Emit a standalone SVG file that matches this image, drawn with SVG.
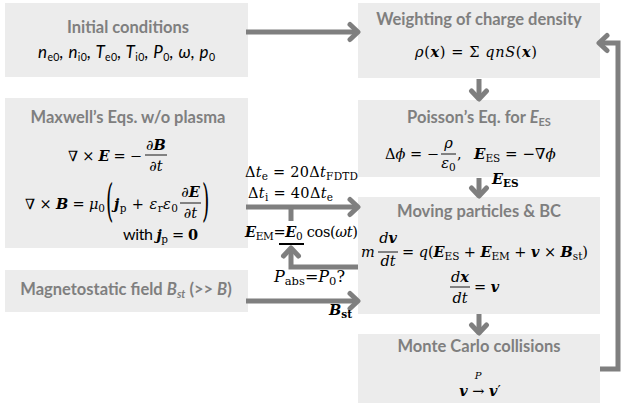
<svg xmlns="http://www.w3.org/2000/svg" width="622" height="405" viewBox="0 0 622 405">
<defs>
<style>
.box{fill:#ececec}
.t{font-family:Lato,"Open Sans","Liberation Sans",sans-serif;font-weight:bold;font-size:16.5px;fill:#7f7f7f;text-anchor:middle}
.m{font-family:"DejaVu Serif","Liberation Serif",serif;font-size:14.5px;fill:#000}
.s{font-family:Lato,"Liberation Sans",sans-serif;font-size:17px;fill:#000}
.i{font-style:italic}
.bv{font-style:italic;font-weight:bold}
.b{font-weight:bold}
.sub{font-size:10.5px;font-style:normal}
.sb{font-size:10.5px;font-style:normal;font-weight:bold}
.bar{stroke:#000;stroke-width:0.9}
.c{fill:none;stroke:#7f7f7f;stroke-width:5}
</style>
<marker id="head" markerUnits="userSpaceOnUse" markerWidth="20" markerHeight="22" viewBox="-14 -11 18 22" refX="0" refY="0" orient="auto">
<path d="M-8,-7.5 L0,0 L-8,7.5" fill="none" stroke="#7f7f7f" stroke-width="5" stroke-linecap="round" stroke-linejoin="round"/>
</marker>
</defs>
<rect width="622" height="405" fill="#fff"/>

<g id="initial">
<rect class="box" x="5" y="3" width="243" height="74"/>
<text class="t" x="128" y="33">Initial conditions</text>
<text class="s i" x="38" y="58" textLength="177" lengthAdjust="spacing">n<tspan class="sub" dy="3">e0</tspan><tspan dy="-3">, n</tspan><tspan class="sub" dy="3">i0</tspan><tspan dy="-3">, T</tspan><tspan class="sub" dy="3">e0</tspan><tspan dy="-3">, T</tspan><tspan class="sub" dy="3">i0</tspan><tspan dy="-3">, P</tspan><tspan class="sub" dy="3">0</tspan><tspan dy="-3">, ω, p</tspan><tspan class="sub" dy="3">0</tspan></text>
</g>

<g id="maxwell">
<rect class="box" x="5" y="98" width="243" height="150"/>
<text class="t" x="128" y="123">Maxwell’s Eqs. w/o plasma</text>
<text class="m" x="68" y="161" textLength="74" lengthAdjust="spacing"><tspan class="i">∇</tspan> × <tspan class="bv">E</tspan> = −</text>
<text class="m" x="156" y="150" text-anchor="middle">∂<tspan class="bv">B</tspan></text>
<line class="bar" x1="145" y1="155" x2="167" y2="155"/>
<text class="m" x="156" y="171" text-anchor="middle">∂<tspan class="i">t</tspan></text>
<text class="m" x="25" y="209" textLength="80" lengthAdjust="spacing"><tspan class="i">∇</tspan> × <tspan class="bv">B</tspan> = <tspan class="i">μ</tspan><tspan class="sub" dy="3">0</tspan></text>
<text class="m" x="106" y="216" style="font-size:45px" transform="translate(106 216) scale(0.42 1) translate(-106 -216)">(</text>
<text class="m" x="114" y="209" textLength="64" lengthAdjust="spacing"><tspan class="bv">j</tspan><tspan class="sub" dy="3">p</tspan><tspan dy="-3"> + </tspan><tspan class="i">ε</tspan><tspan class="sub" dy="3">r</tspan><tspan class="i" dy="-3">ε</tspan><tspan class="sub" dy="3">0</tspan></text>
<text class="m" x="190.5" y="197" text-anchor="middle">∂<tspan class="bv">E</tspan></text>
<line class="bar" x1="180" y1="203" x2="201" y2="203"/>
<text class="m" x="190.5" y="218" text-anchor="middle">∂<tspan class="i">t</tspan></text>
<text class="m" x="202" y="216" style="font-size:45px" transform="translate(202 216) scale(0.42 1) translate(-202 -216)">)</text>
<text class="m" x="123" y="240" textLength="75" lengthAdjust="spacing"><tspan font-family="Lato,'Liberation Sans',sans-serif" font-size="16">with </tspan><tspan class="bv">j</tspan><tspan class="sub" dy="3">p</tspan><tspan dy="-3"> = </tspan><tspan class="b">0</tspan></text>
</g>

<g id="magnetostatic">
<rect class="box" x="5" y="270" width="243" height="42"/>
<text class="t" x="126" y="295">Magnetostatic field <tspan font-style="italic">B</tspan><tspan style="font-size:11px" dy="3" font-style="italic">st</tspan><tspan dy="-3"> (&gt;&gt; </tspan><tspan font-style="italic">B</tspan>)</text>
</g>

<g id="weighting">
<rect class="box" x="358" y="3" width="242" height="75"/>
<text class="t" x="479" y="25">Weighting of charge density</text>
<text class="m" x="415" y="57" textLength="122" lengthAdjust="spacing"><tspan class="i">ρ</tspan>(<tspan class="bv">x</tspan>) = Σ <tspan class="i">qnS</tspan>(<tspan class="bv">x</tspan>)</text>
</g>

<g id="poisson">
<rect class="box" x="358" y="100" width="242" height="77"/>
<text class="t" x="479" y="123">Poisson’s Eq. for <tspan font-style="italic">E</tspan><tspan style="font-size:11px" dy="3">ES</tspan></text>
<text class="m" x="385" y="159" textLength="54" lengthAdjust="spacing">Δ<tspan class="i">ϕ</tspan> = −</text>
<text class="m i" x="448.5" y="148" text-anchor="middle">ρ</text>
<line class="bar" x1="441" y1="154" x2="456" y2="154"/>
<text class="m" x="448.5" y="168" text-anchor="middle"><tspan class="i">ε</tspan><tspan class="sub" dy="3">0</tspan></text>
<text class="m" x="457" y="159">,</text>
<text class="m" x="474" y="159" style="font-size:15px"><tspan class="bv">E</tspan><tspan class="sub" dy="3">ES</tspan><tspan dy="-3"> = −</tspan><tspan class="i">∇ϕ</tspan></text>
</g>

<g id="moving">
<rect class="box" x="358" y="197" width="242" height="117"/>
<text class="t" x="479" y="217">Moving particles &amp; BC</text>
<text class="m i" x="361" y="257">m</text>
<text class="m" x="388" y="243" text-anchor="middle"><tspan class="i">d</tspan><tspan class="bv">v</tspan></text>
<line class="bar" x1="378" y1="252" x2="398" y2="252"/>
<text class="m i" x="388" y="266" text-anchor="middle">dt</text>
<text class="m" x="402" y="257" textLength="186" lengthAdjust="spacing">= <tspan class="i">q</tspan>(<tspan class="bv">E</tspan><tspan class="sub" dy="3">ES</tspan><tspan dy="-3"> + </tspan><tspan class="bv">E</tspan><tspan class="sub" dy="3">EM</tspan><tspan dy="-3"> + </tspan><tspan class="bv">v</tspan> × <tspan class="bv">B</tspan><tspan class="sub" dy="3">st</tspan><tspan dy="-3">)</tspan></text>
<text class="m" x="460" y="282" text-anchor="middle"><tspan class="i">d</tspan><tspan class="bv">x</tspan></text>
<line class="bar" x1="450" y1="287" x2="470" y2="287"/>
<text class="m i" x="460" y="303" text-anchor="middle">dt</text>
<text class="m" x="474" y="292">= <tspan class="bv">v</tspan></text>
</g>

<g id="montecarlo">
<rect class="box" x="358" y="334" width="242" height="69"/>
<text class="t" x="479" y="352">Monte Carlo collisions</text>
<text class="m" x="480" y="396" text-anchor="middle"><tspan class="bv">v</tspan> → <tspan class="bv">v</tspan>′</text>
<text class="m i" x="478" y="379" text-anchor="middle" style="font-size:10px">P</text>
</g>

<g id="connectors">
<path class="c" d="M246,32 H358" marker-end="url(#head)"/>
<path class="c" d="M479,79 V99" marker-end="url(#head)"/>
<path class="c" d="M479,178 V196" marker-end="url(#head)"/>
<path class="c" d="M479,314 V333" marker-end="url(#head)"/>
<path class="c" d="M600,369 H618 V43 H599" marker-end="url(#head)"/>
<path class="c" d="M246,207 H358" marker-end="url(#head)"/>
<path class="c" d="M291,207 V221"/>
<path class="c" d="M358,267 H291 V248" marker-end="url(#head)"/>
<path class="c" d="M246,301 H358" marker-end="url(#head)"/>
</g>

<g id="labels">
<text class="m" x="245" y="177" textLength="113" lengthAdjust="spacing">Δ<tspan class="i">t</tspan><tspan class="sub" dy="3">e</tspan><tspan dy="-3"> = 20Δ</tspan><tspan class="i">t</tspan><tspan class="sub" dy="3">FDTD</tspan></text>
<text class="m" x="248" y="198" textLength="85" lengthAdjust="spacing">Δ<tspan class="i">t</tspan><tspan class="sub" dy="3">i</tspan><tspan dy="-3"> = 40Δ</tspan><tspan class="i">t</tspan><tspan class="sub" dy="3">e</tspan></text>
<text class="m" x="245" y="237" textLength="113" lengthAdjust="spacing"><tspan class="bv">E</tspan><tspan class="sub" dy="3">EM</tspan><tspan dy="-3">=</tspan><tspan class="bv">E</tspan><tspan class="sub" dy="3">0</tspan><tspan dy="-3"> cos(</tspan><tspan class="i">ωt</tspan>)</text>
<line x1="279" y1="244" x2="304" y2="244" stroke="#000" stroke-width="2"/>
<text class="m" x="274" y="282" style="font-size:16px"><tspan class="i">P</tspan><tspan class="sub" dy="3" style="font-size:11.5px">abs</tspan><tspan dy="-3">=</tspan><tspan class="i">P</tspan><tspan class="sub" dy="3" style="font-size:11.5px">0</tspan><tspan dy="-3">?</tspan></text>
<text class="m" x="329" y="315"><tspan class="bv">B</tspan><tspan class="sb" dy="3">st</tspan></text>
<text class="m" x="492" y="184"><tspan class="bv">E</tspan><tspan class="sb" dy="3">ES</tspan></text>
</g>
</svg>
